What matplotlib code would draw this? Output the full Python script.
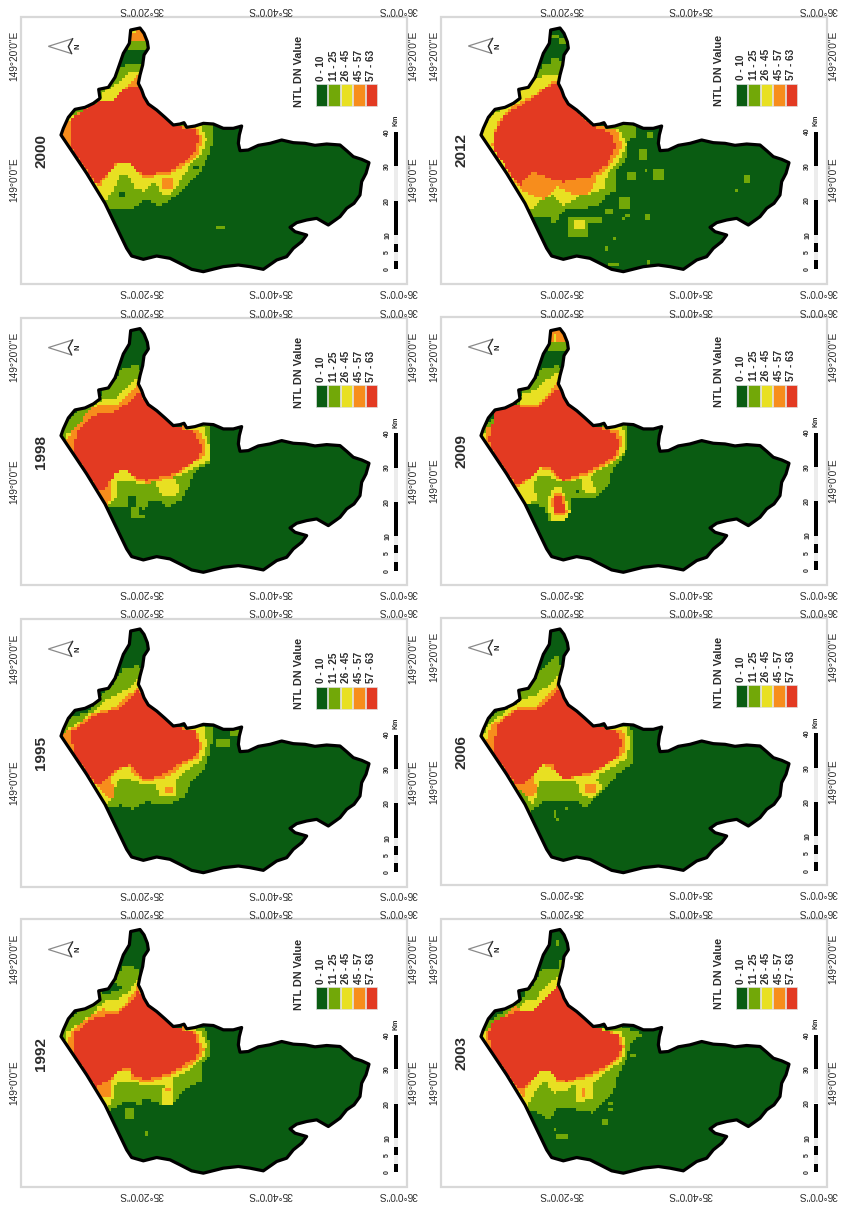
'''     night time light maps, 8 panels     '''

'''     imports     '''
import numpy as np
import matplotlib
matplotlib.use('Agg')
import matplotlib.pyplot as plt
from matplotlib.colors import ListedColormap
from matplotlib.patches import Polygon, Rectangle
from matplotlib.path import Path

plt.rcParams['font.family'] = ['Liberation Sans', 'DejaVu Sans']

boundary = [(392,90),(420,84),(432,100),(442,125),(445,145),(432,165),(428,195),(420,225),(415,250),(425,270),
            (432,290),(445,312),(470,330),(495,352),(520,375),(540,372),(552,368),(560,382),(585,378),(610,370),
            (640,372),(670,385),(700,385),(725,378),(718,405),(715,430),(720,452),(745,450),(775,436),(810,430),
            (845,420),(880,428),(915,430),(945,436),(980,432),(1020,435),(1040,452),(1060,470),(1085,478),(1107,488),
            (1098,520),(1085,545),(1080,585),(1062,610),(1040,625),(1020,650),(985,675),(950,655),(920,660),(890,668),
            (870,682),(885,695),(920,705),(905,725),(880,745),(860,770),(830,780),(790,808),(750,800),(715,795),
            (670,800),(610,815),(575,808),(540,790),(510,775),(470,768),(430,778),(395,768),(380,745),(315,610),
            (260,520),(220,460),(183,405),(190,385),(205,352),(225,328),(255,322),(280,310),(300,295),(296,268),
            (325,262),(345,232),(358,195),(370,160),(388,130)]

class_labels = ['0 - 10', '11 - 25', '26 - 45', '45 - 57', '57 - 63']
class_colors = ['#0a5c12', '#72a808', '#e8e022', '#f78d1c', '#e33a22']
km_stops = [0, 2.5, 5, 7.5, 10, 20, 30, 40]
km_labels = [0, 5, 10, 20, 30, 40]

# zones of each year: green >= 11, yellow >= 26, orange >= 45, red >= 57
green_2000 = [[(375,195),(425,195),(440,300),(500,345),(600,360),(640,372),(635,440),(610,500),(580,540),(550,570),(510,600),(480,620),(440,600),(385,632),(330,630),(300,610),(170,450),(170,370),(290,290),(325,240)]]
yellow_2000 = [[(305,280),(350,255),(385,225),(420,215),(435,300),(520,380),(600,378),(618,420),(600,470),(560,510),(530,560),(510,585),(475,580),(468,545),(430,575),(405,570),(380,525),(360,525),(340,575),(325,590),(315,610),(170,450),(170,370),(300,310)]]
orange_2000 = [[(330,325),(345,305),(385,255),(415,230),(435,300),(520,380),(590,385),(605,420),(590,470),(550,500),(520,520),(430,535),(410,510),(390,495),(350,495),(320,530),(300,565),(180,450),(180,385),(210,360),(280,310)]]
red_2000 = [[(210,360),(285,310),(335,305),(385,262),(415,260),(435,300),(520,380),(585,395),(595,420),(580,465),(540,495),(510,515),(430,528),(400,505),(385,495),(345,495),(315,530),(290,555),(220,460),(210,420)]]
spots_2000 = [(1,380,450,125,150),(3,392,440,84,125),(2,392,412,84,105),(1,650,672,682,690),(0,360,372,575,595),(0,575,595,503,510),(3,488,520,538,565),(0,372,400,165,190)]

green_1998 = [[(370,205),(410,195),(425,220),(440,300),(520,380),(625,375),(633,440),(625,490),(580,515),(565,560),(540,600),(500,620),(470,600),(445,600),(435,625),(390,620),(345,620),(320,625),(170,450),(170,370),(215,350),(250,322),(300,295),(305,265),(340,240)]]
yellow_1998 = [[(280,320),(310,295),(345,295),(385,260),(410,235),(435,300),(520,380),(610,385),(625,430),(625,480),(575,505),(535,530),(520,530),(540,570),(520,590),(475,580),(470,545),(420,550),(385,540),(350,545),(350,590),(335,605),(320,625),(190,440),(200,400),(240,385),(275,335)]]
orange_1998 = [[(275,320),(315,315),(355,312),(390,280),(415,255),(435,300),(520,380),(600,395),(615,440),(605,475),(570,495),(520,530),(440,550),(400,535),(385,510),(350,515),(335,530),(335,590),(320,620),(190,435),(215,395)]]
red_1998 = [[(235,385),(280,345),(340,335),(380,310),(415,275),(435,300),(520,380),(580,395),(595,420),(605,455),(575,490),(520,520),(440,540),(395,525),(380,505),(345,520),(315,565),(290,565),(225,470),(225,420)]]
spots_1998 = [(1,395,415,620,655),(1,418,432,645,655),(0,380,410,590,620),(3,540,558,368,385)]

green_1995 = [[(370,205),(420,195),(425,240),(440,300),(520,380),(600,375),(640,385),(630,450),(610,510),(575,540),(550,590),(505,615),(440,605),(395,625),(365,615),(320,620),(170,450),(170,375),(215,350),(265,335),(300,290),(345,240)]]
yellow_1995 = [[(270,340),(305,315),(325,295),(385,265),(415,235),(435,300),(520,380),(610,385),(620,430),(605,480),(560,510),(525,540),(530,590),(480,590),(465,550),(420,550),(375,535),(350,540),(340,580),(320,615),(185,440),(195,390),(240,365)]]
orange_1995 = [[(215,385),(280,340),(340,325),(385,285),(415,262),(435,300),(520,380),(590,395),(605,440),(590,475),(550,495),(500,530),(430,545),(400,520),(380,495),(345,515),(325,545),(345,560),(340,590),(325,595),(290,560),(185,430),(190,400)]]
red_1995 = [[(215,395),(285,345),(350,330),(390,295),(415,270),(435,300),(520,380),(585,395),(600,440),(585,470),(540,490),(490,520),(430,540),(405,510),(385,495),(345,510),(315,540),(290,555),(225,470),(215,425)]]
spots_1995 = [(1,650,685,420,445),(1,690,725,393,405),(3,495,515,560,575)]

green_1992 = [[(375,190),(415,205),(425,235),(445,312),(520,380),(610,378),(632,430),(625,465),(605,490),(605,540),(550,565),(520,610),(480,610),(430,590),(420,610),(380,600),(355,610),(320,630),(170,450),(170,385),(210,350),(235,330),(300,295),(300,275),(330,278),(365,262),(340,240)]]
yellow_1992 = [[(290,320),(320,295),(355,295),(380,275),(415,235),(435,300),(520,380),(600,388),(620,430),(608,470),(575,500),(520,530),(520,610),(480,610),(490,550),(430,550),(395,545),(345,545),(340,590),(330,610),(320,625),(185,440),(195,395),(230,375),(280,335)]]
orange_1992 = [[(270,345),(310,325),(355,335),(385,295),(415,255),(435,300),(520,380),(590,395),(610,450),(590,480),(520,520),(440,545),(395,535),(385,505),(350,510),(330,545),(330,590),(310,590),(285,565),(195,430),(215,390)]]
red_1992 = [[(218,400),(280,350),(355,335),(385,310),(415,272),(435,300),(520,380),(580,395),(600,450),(585,470),(520,510),(440,535),(400,525),(385,500),(350,510),(325,540),(285,560),(220,460)]]
spots_1992 = [(1,375,400,620,650),(1,430,440,685,705),(3,497,508,563,572),(3,540,555,370,385)]

green_2012 = [[(365,205),(375,180),(420,180),(428,215),(445,312),(520,380),(580,378),(640,372),(645,410),(620,430),(615,490),(590,510),(590,570),(555,590),(540,615),(500,625),(440,630),(420,650),(400,680),(385,655),(335,655),(320,625),(170,450),(170,380),(215,340),(300,295),(300,265),(345,235)]]
yellow_2012 = [[(345,240),(385,225),(420,225),(435,300),(470,340),(520,380),(600,395),(618,440),(590,490),(560,520),(550,570),(480,590),(430,620),(395,590),(350,610),(340,630),(320,625),(185,430),(190,385),(215,350),(245,330),(300,290),(300,275)]]
orange_2012 = [[(245,350),(280,320),(320,300),(375,265),(395,245),(420,245),(435,300),(520,380),(590,395),(605,440),(570,500),(530,530),(520,560),(490,590),(440,580),(410,560),(370,600),(325,585),(295,565),(215,440),(230,370)]]
red_2012 = [[(225,400),(250,350),(285,330),(330,300),(385,262),(415,250),(435,300),(520,385),(570,400),(585,440),(560,495),(510,530),(430,548),(395,545),(370,525),(335,520),(310,545),(300,565),(225,460)]]
spots_2012 = [(1,680,700,395,412),(1,655,680,450,487),(1,700,730,510,545),(1,620,650,520,545),(1,672,680,510,518),
              (1,595,632,595,632),(1,555,580,630,645),(1,610,632,645,655),(1,670,690,645,660),(1,970,982,528,548),
              (1,940,952,565,575),(1,440,500,650,710),(2,460,495,660,690),(1,575,585,710,720),(1,553,565,740,760),
              (1,565,595,788,800),(1,680,690,778,795),(1,505,545,655,670),(1,605,612,655,662),(1,395,415,108,122),
              (1,420,442,122,134),(0,378,390,180,192)]

green_2009 = [[(370,205),(415,195),(428,220),(440,300),(520,380),(620,372),(620,440),(600,480),(575,510),(570,550),(530,590),(480,595),(450,590),(445,650),(420,665),(385,660),(375,620),(350,615),(320,615),(170,450),(170,385),(200,370),(300,300),(305,265),(345,235)]]
yellow_2009 = [[(305,280),(340,275),(380,240),(415,215),(435,300),(520,380),(605,380),(615,430),(605,465),(575,490),(520,515),(510,530),(530,575),(490,575),(485,535),(445,545),(410,540),(385,525),(350,530),(340,555),(350,600),(320,615),(190,430),(185,400),(300,310)],
               [(395,565),(425,560),(435,600),(448,630),(435,660),(395,660),(380,625),(385,590)]]
orange_2009 = [[(305,310),(355,315),(385,280),(415,240),(435,300),(520,380),(595,390),(605,430),(585,480),(520,515),(430,545),(405,525),(390,510),(360,505),(320,545),(285,560),(195,440),(198,385)],
               [(398,578),(425,575),(435,610),(440,640),(400,645),(392,610)]]
red_2009 = [[(215,380),(225,330),(285,315),(335,325),(355,325),(385,290),(415,265),(435,300),(520,380),(585,398),(598,430),(580,470),(520,505),(430,540),(400,515),(385,500),(360,505),(325,535),(290,555),(220,465),(205,415)],
            [(400,585),(422,585),(432,625),(432,640),(402,638)]]
spots_2009 = [(1,385,450,125,155),(3,392,440,88,125),(2,398,412,105,128),(0,464,476,568,578)]

green_2006 = [[(375,195),(410,165),(420,195),(428,225),(445,312),(520,380),(630,372),(640,440),(635,490),(590,520),(565,555),(530,590),(490,625),(470,600),(380,600),(350,620),(325,635),(170,450),(170,385),(215,350),(240,325),(300,300),(300,265),(340,240)]]
yellow_2006 = [[(305,295),(340,290),(385,255),(415,225),(435,300),(520,380),(620,385),(628,430),(620,470),(590,495),(540,520),(525,540),(545,560),(510,600),(480,575),(470,545),(400,545),(355,540),(350,585),(335,610),(190,430),(185,405),(215,365),(260,330)]]
orange_2006 = [[(305,320),(350,320),(385,280),(415,250),(435,300),(520,380),(605,390),(615,430),(610,460),(580,480),(520,520),(430,535),(405,510),(370,495),(345,515),(340,545),(355,570),(330,590),(285,560),(195,430),(215,375),(265,340)]]
red_2006 = [[(230,375),(285,330),(340,335),(385,300),(415,265),(435,300),(520,380),(590,395),(605,430),(590,470),(530,510),(430,535),(410,515),(395,495),(370,495),(340,520),(310,555),(290,555),(225,470),(225,410)]]
spots_2006 = [(1,400,410,628,650),(1,430,440,618,628),(1,408,418,655,665),(3,490,525,550,578)]

green_2003 = [[(385,200),(420,205),(430,230),(445,312),(520,380),(600,375),(665,400),(635,420),(625,450),(610,490),(590,530),(585,560),(560,590),(520,635),(470,625),(415,615),(385,655),(345,630),(320,625),(170,450),(170,400),(205,360),(300,300),(320,270),(345,240),(365,210)]]
yellow_2003 = [[(295,325),(320,300),(345,295),(380,250),(418,225),(435,300),(520,380),(605,395),(615,440),(605,480),(560,510),(520,545),(515,590),(470,605),(468,545),(430,570),(400,575),(375,540),(345,570),(335,590),(320,620),(185,440),(190,395),(280,320)]]
orange_2003 = [[(285,318),(325,345),(360,310),(390,285),(418,245),(435,300),(520,380),(595,398),(610,440),(595,475),(530,520),(440,545),(410,540),(390,510),(370,505),(340,530),(315,565),(320,600),(295,570),(190,430),(200,390)]]
red_2003 = [[(205,395),(220,360),(285,335),(325,335),(365,305),(395,270),(415,250),(435,300),(520,380),(590,400),(603,445),(580,480),(530,510),(440,540),(410,530),(385,505),(365,510),(330,540),(305,565),(290,560),(215,455)]]
spots_2003 = [(1,400,410,678,688),(1,408,440,700,715),(1,545,562,658,668),(1,560,575,620,630),(1,565,575,600,608),
              (1,632,642,458,468),(1,410,420,120,135),(1,418,424,180,200),(3,485,497,560,590)]

# year, column, row, shift of legend items
panels = [(2000, 0, 0, 0, green_2000, yellow_2000, orange_2000, red_2000, spots_2000),
          (1998, 0, 1, 2, green_1998, yellow_1998, orange_1998, red_1998, spots_1998),
          (1995, 0, 2, 5, green_1995, yellow_1995, orange_1995, red_1995, spots_1995),
          (1992, 0, 3, 5, green_1992, yellow_1992, orange_1992, red_1992, spots_1992),
          (2012, 1, 0, -1, green_2012, yellow_2012, orange_2012, red_2012, spots_2012),
          (2009, 1, 1, 0, green_2009, yellow_2009, orange_2009, red_2009, spots_2009),
          (2006, 1, 2, 1, green_2006, yellow_2006, orange_2006, red_2006, spots_2006),
          (2003, 1, 3, 4, green_2003, yellow_2003, orange_2003, red_2003, spots_2003)]

row_tops = [0, 300.6, 601, 901.5]
col_lefts = [0, 420]
W, H = 841, 1208
CELL = 8.5
TXT = '#2b2b2b'

xs = np.arange(170, 1120, CELL)
ys = np.arange(76, 825, CELL)
gx, gy = np.meshgrid(xs + CELL / 2, ys + CELL / 2)
cells = np.column_stack([gx.ravel(), gy.ravel()])


def rasterize(zones, spots):
    grid = np.zeros(gx.shape)
    for level, polys in enumerate(zones, start=1):
        for poly in polys:
            inside = Path(poly).contains_points(cells).reshape(gx.shape)
            grid[inside] = level
    for level, x0, x1, y0, y1 in spots:
        grid[(gx >= x0) & (gx <= x1) & (gy >= y0) & (gy <= y1)] = level
    return grid


fig = plt.figure(figsize=(W / 100, H / 100), dpi=100)

for year, col, row, shift, green, yellow, orange, red, spots in panels:
    ax = fig.add_axes([col_lefts[col] / W, 1 - (row_tops[row] + 310) / H, 420 / W, 310 / H])
    ax.axis('off')

    # frame
    ax.add_patch(Rectangle((63, 50 + shift / 2), 1159, 802 + shift / 2, fc='none', ec='#d8d8d8', lw=1.6))

    # raster clipped to the boundary
    grid = rasterize([green, yellow, orange, red], spots)
    im = ax.imshow(grid, cmap=ListedColormap(class_colors), vmin=-0.5, vmax=4.5, aspect='auto',
                   extent=(xs[0], xs[-1] + CELL, ys[-1] + CELL, ys[0]), interpolation='nearest')
    clip = Polygon(boundary, closed=True, fc='none', ec='none', transform=ax.transData)
    ax.add_patch(clip)
    im.set_clip_path(clip)
    ax.add_patch(Polygon(boundary, closed=True, fc='none', ec='black', lw=2.3, joinstyle='round'))

    ax.set_xlim(0, 1260)
    ax.set_ylim(930, 0)

    # coordinate labels
    for x, lab in zip([425, 812, 1195], ['35°20\'0"S', '35°40\'0"S', '36°0\'0"S']):
        ax.text(x, 31, lab, rotation=180, ha='center', va='center', fontsize=7.3, color=TXT, clip_on=False)
        ax.text(x, 877 + shift / 2, lab, rotation=180, ha='center', va='center', fontsize=7.3, color=TXT, clip_on=False)
    for x in [42, 1240]:
        ax.text(x, 168 + shift, '149°20\'0"E', rotation=90, ha='center', va='center', fontsize=7.3, color=TXT)
        ax.text(x, 540 + shift, '149°0\'0"E', rotation=90, ha='center', va='center', fontsize=7.3, color=TXT)

    ax.text(124, 452 + shift, str(year), rotation=90, ha='center', va='center', fontsize=11,
            fontweight='bold', color=TXT)

    # north arrow
    ax.add_patch(Polygon([(145, 139 + shift), (218, 116 + shift), (205, 140 + shift), (215, 161 + shift)],
                         closed=True, fc='white', ec='#8a8a8a', lw=0.9))
    ax.plot([218, 205, 215], [116 + shift, 140 + shift, 161 + shift], color='#333333', lw=0.9)
    ax.text(235, 139 + shift, 'N', rotation=90, ha='center', va='center', fontsize=5.5, fontweight='bold', color=TXT)

    # legend
    ax.text(897, 320 + shift, 'NTL DN Value', rotation=90, ha='center', va='bottom', fontsize=7.8,
            fontweight='bold', color=TXT)
    for i, (lab, colr) in enumerate(zip(class_labels, class_colors)):
        x0 = 947 + i * 37.6
        ax.add_patch(Rectangle((x0, 252 + shift), 34, 66, fc=colr, ec='#dddddd', lw=0.5))
        ax.text(x0 + 17, 242 + shift, lab, rotation=90, ha='center', va='bottom', fontsize=7.2,
                fontweight='bold', color=TXT)

    # scale bar
    to_y = lambda km: 808 + shift - km * 10.3
    for i in range(len(km_stops) - 1):
        top, bot = to_y(km_stops[i + 1]), to_y(km_stops[i])
        colr = 'black' if i % 2 == 0 else '#ececec'
        ax.add_patch(Rectangle((1183, top), 12, bot - top, fc=colr, ec='none'))
    for km in km_labels:
        ax.text(1163, to_y(km), str(km), rotation=90, ha='center', va='center', fontsize=5, fontweight='bold', color=TXT)
    ax.text(1187, 362 + shift, 'Km', rotation=90, ha='center', va='center', fontsize=5, fontweight='bold', color=TXT)

fig.savefig('out.png', dpi=100)
